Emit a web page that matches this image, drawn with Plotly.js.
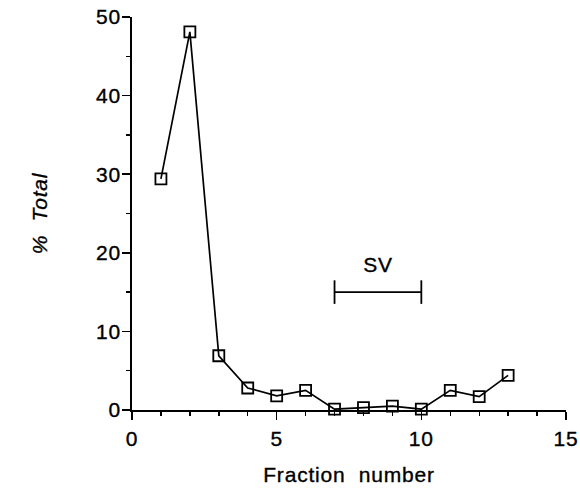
<!DOCTYPE html>
<html>
<head>
<meta charset="utf-8">
<script src="https://cdn.plot.ly/plotly-3.0.1.min.js"></script>
<style>
html,body{margin:0;padding:0;background:#fff;}
#chart{width:580px;height:493px;}
#chart text{letter-spacing:0.8px;stroke:#000;stroke-width:0.35px;}
</style>
</head>
<body>
<div id="chart"></div>
<script>
const fractions = [1, 2, 3, 4, 5, 6, 7, 8, 9, 10, 11, 12, 13];
const percentTotal = [29.4, 48.1, 6.9, 2.8, 1.8, 2.5, 0.1, 0.3, 0.5, 0.1, 2.5, 1.7, 4.4];
const svStart = 7;
const svEnd = 10;
const svLevel = 15;
const svLabel = "SV";
const xTicks = [0, 5, 10, 15];
const yTicks = [0, 10, 20, 30, 40, 50];

const fam = "Liberation Sans, Arial, Helvetica, sans-serif";
function f(size) { return {family: fam, size: size, color: "#000"}; }

const trace = {
  x: fractions, y: percentTotal, type: "scatter", mode: "lines+markers",
  line: {color: "#000", width: 1.7},
  marker: {symbol: "square-open", size: 11, color: "#000", line: {width: 1.8, color: "#000"}},
  cliponaxis: false, hoverinfo: "skip"
};

const capHalf = 1.5;
const layout = {
  width: 580, height: 493,
  margin: {l: 132, r: 14, t: 17, b: 83},
  paper_bgcolor: "#fff", plot_bgcolor: "#fff",
  showlegend: false,
  font: f(21),
  xaxis: {
    range: [0, 15], tickvals: xTicks, ticktext: xTicks.map(String),
    showgrid: false, zeroline: false, showline: true, linecolor: "#000", linewidth: 1.8,
    ticks: "outside", ticklen: 8, tickwidth: 1.6, tickcolor: "#000",
    ticklabelstandoff: 1,
    minor: {dtick: 1, tick0: 0, ticks: "outside", ticklen: 4, tickwidth: 1.4, tickcolor: "#000", showgrid: false},
    tickfont: f(21),
    title: {text: "Fraction&nbsp;&nbsp;number", font: f(21), standoff: 18}
  },
  yaxis: {
    range: [0, 50], tickvals: yTicks, ticktext: yTicks.map(String),
    showgrid: false, zeroline: false, showline: true, linecolor: "#000", linewidth: 1.8,
    ticks: "outside", ticklen: 8, tickwidth: 1.6, tickcolor: "#000",
    ticklabelstandoff: -3,
    minor: {dtick: 5, tick0: 0, ticks: "outside", ticklen: 4, tickwidth: 1.4, tickcolor: "#000", showgrid: false},
    tickfont: f(21),
    title: {text: "<i>%  Total</i>", font: f(21), standoff: 44}
  },
  shapes: [
    {type: "line", xref: "x", yref: "y", x0: svStart, x1: svEnd, y0: svLevel, y1: svLevel, line: {color: "#000", width: 1.8}},
    {type: "line", xref: "x", yref: "y", x0: svStart, x1: svStart, y0: svLevel - capHalf, y1: svLevel + capHalf, line: {color: "#000", width: 1.8}},
    {type: "line", xref: "x", yref: "y", x0: svEnd, x1: svEnd, y0: svLevel - capHalf, y1: svLevel + capHalf, line: {color: "#000", width: 1.8}}
  ],
  annotations: [
    {x: (svStart + svEnd) / 2, y: svLevel + 3.5, xref: "x", yref: "y", text: svLabel, showarrow: false, font: f(21)}
  ]
};

Plotly.newPlot("chart", [trace], layout, {displayModeBar: false, staticPlot: true});
</script>
</body>
</html>
